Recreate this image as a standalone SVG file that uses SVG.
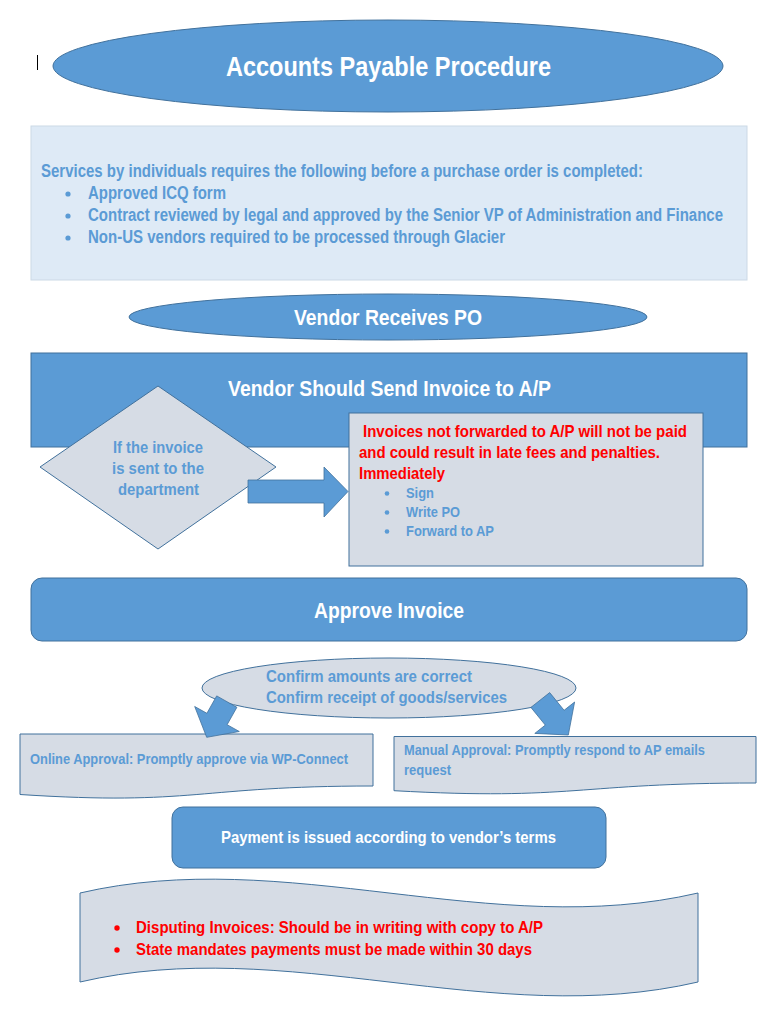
<svg xmlns="http://www.w3.org/2000/svg" width="766" height="1009" viewBox="0 0 766 1009">
<style>
text{font-family:"Liberation Sans Narrow","Liberation Sans",Arial,sans-serif;font-weight:bold}
.blue{fill:#5B9BD5;stroke:#41719C;stroke-width:1}
.gray{fill:#D6DCE5;stroke:#41719C;stroke-width:1}
.wt{fill:#FFFFFF}
.bt{fill:#5B9BD5}
.rt{fill:#FF0000}
.arrow{fill:#5B9BD5;stroke:#41719C;stroke-width:0.8}
</style>
<rect width="766" height="1009" fill="#FFFFFF"/>
<line x1="37.5" y1="55" x2="37.5" y2="70" stroke="#000000" stroke-width="1"/>

<g id="title">
<ellipse class="blue" cx="388" cy="66" rx="335" ry="46"/>
<text class="wt" x="388.5" y="76" font-size="28" text-anchor="middle" textLength="325" lengthAdjust="spacingAndGlyphs">Accounts Payable Procedure</text>
</g>

<g id="requirements">
<rect x="31" y="126" width="716" height="154" fill="#DEEAF6" stroke="#CCD9E6" stroke-width="1"/>
<text class="bt" x="41" y="177" font-size="17.5" textLength="602" lengthAdjust="spacingAndGlyphs">Services by individuals requires the following before a purchase order is completed:</text>
<circle class="bt" cx="68" cy="194" r="2.6"/>
<circle class="bt" cx="68" cy="216" r="2.6"/>
<circle class="bt" cx="68" cy="238" r="2.6"/>
<text class="bt" x="88" y="199" font-size="17.5" textLength="138" lengthAdjust="spacingAndGlyphs">Approved ICQ form</text>
<text class="bt" transform="translate(88,221) scale(0.82,1)" x="0" y="0" font-size="17.5" textLength="774.4" lengthAdjust="spacingAndGlyphs">Contract reviewed by legal and approved by the Senior VP of Administration and Finance</text>
<text class="bt" x="88" y="243" font-size="17.5" textLength="417" lengthAdjust="spacingAndGlyphs">Non-US vendors required to be processed through Glacier</text>
</g>

<g id="vendor-receives-po">
<ellipse class="blue" cx="388" cy="317" rx="259" ry="23"/>
<text class="wt" x="388" y="325" font-size="22" text-anchor="middle" textLength="188" lengthAdjust="spacingAndGlyphs">Vendor Receives PO</text>
</g>

<g id="send-invoice">
<rect class="blue" x="31" y="353" width="716" height="94"/>
<text class="wt" x="389.5" y="396" font-size="22" text-anchor="middle" textLength="323" lengthAdjust="spacingAndGlyphs">Vendor Should Send Invoice to A/P</text>
</g>

<g id="department-decision">
<polygon class="gray" points="158,386 276,467 158,549 40,467"/>
<text class="bt" x="158" y="453" font-size="17" text-anchor="middle" textLength="90" lengthAdjust="spacingAndGlyphs">If the invoice</text>
<text class="bt" x="158" y="474" font-size="17" text-anchor="middle" textLength="92" lengthAdjust="spacingAndGlyphs">is sent to the</text>
<text class="bt" x="158.5" y="495" font-size="17" text-anchor="middle" textLength="81" lengthAdjust="spacingAndGlyphs">department</text>
</g>

<g id="warning-box">
<rect class="gray" x="349" y="413" width="354" height="153"/>
<text class="rt" x="363" y="437" font-size="17" textLength="324" lengthAdjust="spacingAndGlyphs">Invoices not forwarded to A/P will not be paid</text>
<text class="rt" x="359" y="458" font-size="17" textLength="301" lengthAdjust="spacingAndGlyphs">and could result in late fees and penalties.</text>
<text class="rt" x="359" y="479" font-size="17" textLength="86" lengthAdjust="spacingAndGlyphs">Immediately</text>
<circle class="bt" cx="387" cy="493.5" r="2.3"/>
<circle class="bt" cx="387" cy="512.5" r="2.3"/>
<circle class="bt" cx="387" cy="531.5" r="2.3"/>
<text class="bt" x="406" y="498" font-size="15" textLength="28" lengthAdjust="spacingAndGlyphs">Sign</text>
<text class="bt" x="406" y="517" font-size="15" textLength="54" lengthAdjust="spacingAndGlyphs">Write PO</text>
<text class="bt" x="406" y="536" font-size="15" textLength="88" lengthAdjust="spacingAndGlyphs">Forward to AP</text>
</g>

<g id="approve-invoice">
<rect class="blue" x="31" y="578" width="716" height="63" rx="11" ry="11"/>
<text class="wt" x="389" y="618" font-size="22" text-anchor="middle" textLength="150" lengthAdjust="spacingAndGlyphs">Approve Invoice</text>
</g>

<g id="confirm">
<ellipse class="gray" cx="389" cy="688" rx="187" ry="30"/>
<text class="bt" x="266" y="682" font-size="17" textLength="206" lengthAdjust="spacingAndGlyphs">Confirm amounts are correct</text>
<text class="bt" x="266" y="703" font-size="17" textLength="241" lengthAdjust="spacingAndGlyphs">Confirm receipt of goods/services</text>
</g>

<g id="online-approval">
<path class="gray" d="M20,734 L373,734 L373,786 C196,786 196,806 20,794.5 Z"/>
<text class="bt" x="30" y="764" font-size="15" textLength="318" lengthAdjust="spacingAndGlyphs">Online Approval: Promptly approve via WP-Connect</text>
</g>

<g id="manual-approval">
<path class="gray" d="M394,736.5 L756,736.5 L756,783 C575,783 575,800.7 394,790.7 Z"/>
<text class="bt" x="404" y="755" font-size="15" textLength="301" lengthAdjust="spacingAndGlyphs">Manual Approval: Promptly respond to AP emails</text>
<text class="bt" x="404" y="775" font-size="15" textLength="47" lengthAdjust="spacingAndGlyphs">request</text>
</g>

<g id="payment">
<rect class="blue" x="172" y="807" width="434" height="61" rx="11" ry="11"/>
<text class="wt" x="388.5" y="843" font-size="17" text-anchor="middle" textLength="335" lengthAdjust="spacingAndGlyphs">Payment is issued according to vendor’s terms</text>
</g>

<g id="disputes">
<path class="gray" d="M80,893 C286,845 492,941 698,893 L698,982 C492,1030 286,934 80,982 Z"/>
<circle class="rt" cx="117" cy="928" r="2.7"/>
<circle class="rt" cx="117" cy="950" r="2.7"/>
<text class="rt" x="136" y="933" font-size="17" textLength="407" lengthAdjust="spacingAndGlyphs">Disputing Invoices: Should be in writing with copy to A/P</text>
<text class="rt" x="136" y="955" font-size="17" textLength="396" lengthAdjust="spacingAndGlyphs">State mandates payments must be made within 30 days</text>
</g>

<g id="connectors">
<polygon class="arrow" points="248,480 324,480 324,467 348,491.5 324,517 324,503 248,503"/>
<polygon class="arrow" points="216.7,695.9 206.9,713.3 194.7,706.5 206.7,737.3 239.3,731.5 227.1,724.7 236.9,707.3"/>
<polygon class="arrow" points="549.7,692.6 564.1,710.3 574.6,702 568.3,735 534.8,733.4 545.3,725.1 530.9,707.4"/>
</g>
</svg>
